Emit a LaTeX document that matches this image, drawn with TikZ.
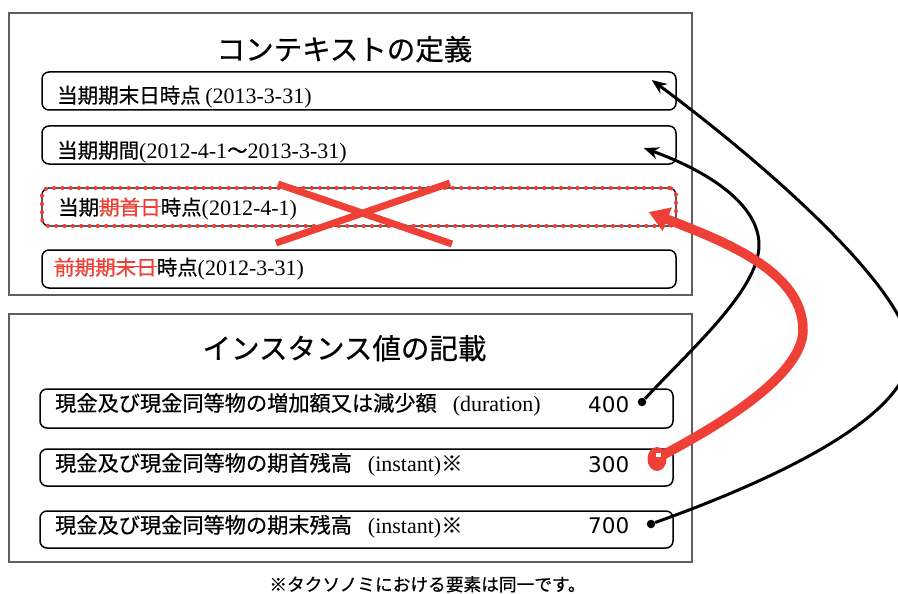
\documentclass[tikz,border=0pt]{standalone}
\usepackage{fontspec}
\setmainfont{Liberation Serif}
\newfontfamily\jp{Noto Sans CJK JP}[FakeBold=0.6]
\newfontfamily\numf{DejaVu Sans}
\usetikzlibrary{arrows.meta}
\definecolor{xred}{RGB}{238,64,54}
\definecolor{panelgray}{RGB}{95,95,95}
\newcommand\lat[1]{{\rmfamily\fontsize{22}{26}\selectfont #1}}
\newcommand\strk[1]{{\color{xred}\setbox0\hbox{#1}\rlap{\rule[0.38em]{\wd0}{1.3pt}}\box0}}
\begin{document}
\begin{tikzpicture}[x=1pt,y=-1pt,
    panel/.style={draw=panelgray,line width=1.2pt,inner sep=0pt},
    entry/.style={draw,rounded corners=7pt,line width=1.5pt,inner sep=0pt,minimum height=38pt},
    txt/.style={anchor=base west,inner sep=0pt,font=\jp\fontsize{20.5}{24}\selectfont},
    bigtxt/.style={txt,font=\jp\fontsize{21.2}{24}\selectfont},
    num/.style={anchor=base west,inner sep=0pt,font=\numf\fontsize{21.5}{24}\selectfont},
    headline/.style={anchor=base,inner sep=0pt,font=\jp\fontsize{28.5}{32}\selectfont},
    dot/.style={circle,fill,inner sep=0pt,minimum size=8.5pt},
    link/.style={draw,line width=3pt,-{Stealth[length=15pt,width=12pt]}},
    redlink/.style={draw=xred,line width=9.5pt,-{Triangle[length=20pt,width=24pt]}}]
  \useasboundingbox (0,0) rectangle (898,594);
  \clip (0,0) rectangle (898,594);
  % context panel
  \node[panel,minimum width=683pt,minimum height=282pt] (ctxpanel) at (350.5,154) {};
  \node[headline] (ctxtitle) at (344.5,60) {コンテキストの定義};
  \node[entry,minimum width=634pt] (c1) at (359,91) {};
  \node[entry,minimum width=634pt] (c2) at (359,145) {};
  \node[entry,minimum width=634pt,line width=1.3pt] (c3) at (359,207) {};
  \node[entry,minimum width=634pt,draw=xred,line width=4.2pt,dash pattern=on 0.01pt off 8.3pt,line cap=round] (c3dots) at (c3) {};
  \node[entry,minimum width=634pt] (c4) at (359,269) {};
  \node[txt] (c1t) at (57,103) {当期期末日時点 \lat{(2013-3-31)}};
  \node[txt] (c2t) at (57,158) {当期期間\lat{(2012-4-1}～\lat{2013-3-31)}};
  \node[txt] (c3t) at (58,215) {当期\strk{期首日}時点\lat{(2012-4-1)}};
  \node[txt] (c4t) at (54,275) {\strk{前期期末日}時点\lat{(2012-3-31)}};
  % crossed out
  \draw[xred,line width=7pt] (278,184) -- (452,244);
  \draw[xred,line width=7pt] (276,243) -- (450,183);
  % instance panel
  \node[panel,minimum width=683pt,minimum height=248pt] (instpanel) at (350.5,438) {};
  \node[headline] (insttitle) at (344.5,359) {インスタンス値の記載};
  \node[entry,minimum width=633pt,minimum height=39pt] (i1) at (356.5,408.5) {};
  \node[entry,minimum width=633pt,minimum height=37pt] (i2) at (356.5,467.5) {};
  \node[entry,minimum width=633pt,minimum height=37pt] (i3) at (356.5,529.5) {};
  \node[bigtxt] (i1t) at (55,411) {現金及び現金同等物の増加額又は減少額\hspace{16pt}\lat{(duration)}};
  \node[bigtxt] (i2t) at (55,471) {現金及び現金同等物の期首残高\hspace{16pt}\lat{(instant)}※};
  \node[bigtxt] (i3t) at (55,533) {現金及び現金同等物の期末残高\hspace{16pt}\lat{(instant)}※};
  \node[num] (v400) at (588,412) {400};
  \node[num] (v300) at (588,472) {300};
  \node[num] (v700) at (588,533) {700};
  \node[dot] (d400) at (642,402) {};
  \node[dot] (d700) at (651,524) {};
  \coordinate (d300) at (657,459);
  \node[anchor=base,inner sep=0pt,font=\jp\fontsize{17.7}{20}\selectfont] (note) at (427.5,591) {※タクソノミにおける要素は同一です。};
  % arrow ends
  \coordinate (c1tip) at ([shift={(-25,-11)}]c1.east);
  \coordinate (c2tip) at ([shift={(-33,3)}]c2.east);
  \coordinate (c3tip) at ([shift={(-28,5)}]c3.east);
  \draw[link] (d400) .. controls (690,350) and (759,290) .. (759,245) .. controls (759,205) and (710,172) .. (c2tip);
  \draw[link] (d700) .. controls (760,485) and (910,420) .. (910,352) .. controls (910,290) and (760,160) .. (c1tip);
  \draw[redlink] ([shift={(4,-3)}]d300) .. controls (720,425) and (803,375) .. (803,330) .. controls (803,270) and (720,240) .. (c3tip);
  \fill[xred] (d300) ellipse [x radius=9.5,y radius=12];
  \fill[white] ([shift={(-1,-6)}]d300) rectangle ([shift={(4,-2)}]d300);
\end{tikzpicture}
\end{document}
